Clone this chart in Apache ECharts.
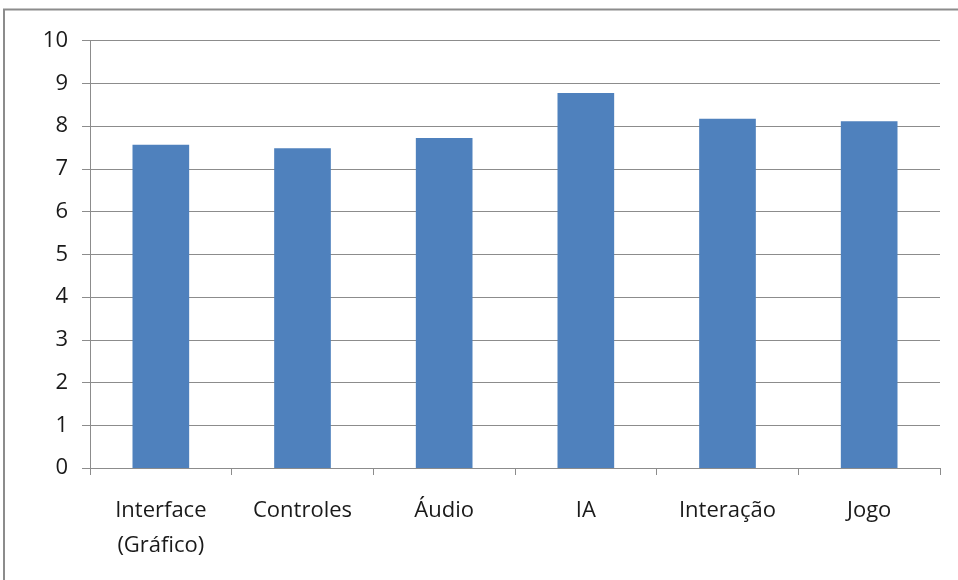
<!DOCTYPE html>
<html>
<head>
<meta charset="utf-8">
<script src="https://cdn.jsdelivr.net/npm/echarts@6/dist/echarts.min.js"></script>
<style>
  html, body { margin: 0; padding: 0; background: #fff; }
  #chart { width: 958px; height: 580px; }
</style>
</head>
<body>
<div id="chart"></div>
<script>
// categorias e notas médias
const categories = ['Interface\n(Gráfico)', 'Controles', 'Áudio', 'IA', 'Interação', 'Jogo']
const values = [7.56, 7.48, 7.72, 8.77, 8.17, 8.11]

const myChart = echarts.init(document.getElementById('chart'))

const option = {
  backgroundColor: '#fff',
  animation: false,
  textStyle: { fontFamily: 'Open Sans' },
  graphic: [
    {
      type: 'polyline',
      shape: { points: [[4, 580], [4, 9.5], [958, 9.5]] },
      style: { stroke: '#8c8c8c', lineWidth: 2, fill: null },
    },
  ],
  grid: {
    left: 90,
    right: 18,
    top: 40.5,
    bottom: 112,
    containLabel: false,
  },
  xAxis: {
    type: 'category',
    data: categories,
    axisLine: { lineStyle: { color: '#8c8c8c', width: 1 } },
    axisTick: { show: true, length: 7, lineStyle: { color: '#8c8c8c' } },
    axisLabel: {
      color: '#1a1a1a',
      fontSize: 22,
      margin: 25,
      lineHeight: 35,
      interval: 0,
    },
  },
  yAxis: {
    type: 'value',
    min: 0,
    max: 10,
    interval: 1,
    axisLine: { show: true, lineStyle: { color: '#8c8c8c', width: 1 } },
    axisTick: { show: true, length: 8, lineStyle: { color: '#8c8c8c' } },
    axisLabel: { color: '#1a1a1a', fontSize: 22, margin: 22 },
    splitLine: { lineStyle: { color: '#8c8c8c', width: 1 } },
  },
  series: [
    {
      type: 'bar',
      data: values,
      barWidth: '40%',
      itemStyle: { color: '#4f81bd' },
    },
  ],
}

myChart.setOption(option)
</script>
</body>
</html>
